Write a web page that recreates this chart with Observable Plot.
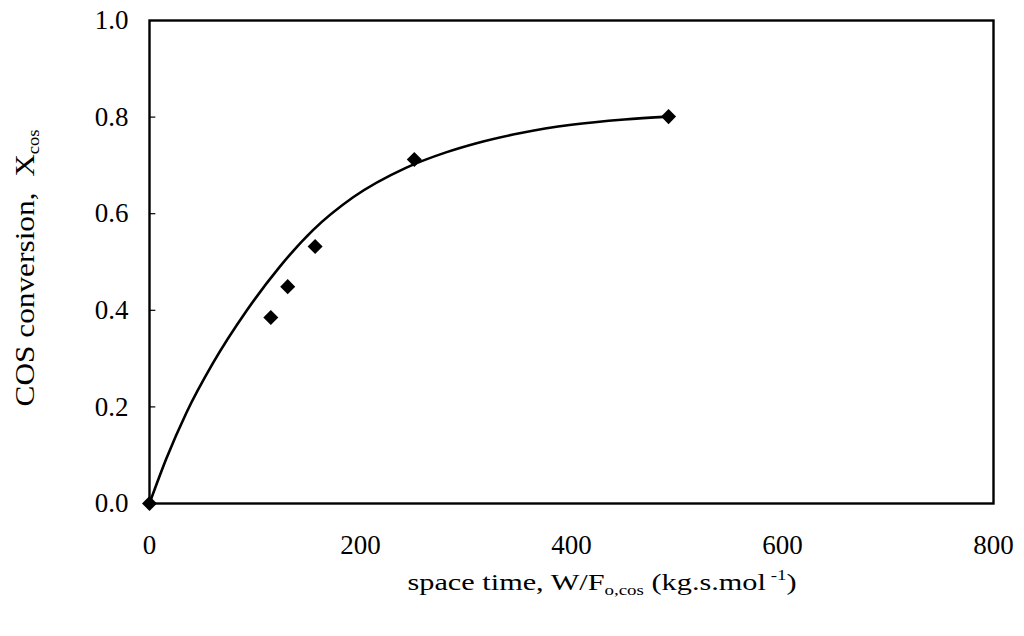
<!DOCTYPE html>
<html>
<head>
<meta charset="utf-8">
<script src="https://cdn.jsdelivr.net/npm/d3@7"></script>
<script src="https://cdn.jsdelivr.net/npm/@observablehq/plot@0.6"></script>
<style>
  html, body { margin: 0; padding: 0; background: #fff; }
  #chart { width: 1024px; height: 636px; }
</style>
</head>
<body>
<div id="chart"></div>
<script>
// Measured points (space time, conversion)
const expX = [0, 115, 131, 157, 251, 492];
const expY = [0, 0.385, 0.449, 0.532, 0.712, 0.801];

// Fitted curve
const fitX = [0, 16, 35, 60, 92, 123, 155, 193, 243, 281, 310, 352, 400, 450, 492];
const fitY = [0, 0.093, 0.188, 0.290, 0.399, 0.489, 0.566, 0.634, 0.695, 0.727, 0.746, 0.767, 0.784, 0.795, 0.801];

const xTicks = [0, 200, 400, 600, 800];
const yTicks = [0, 0.2, 0.4, 0.6, 0.8, 1.0];
const innerTicks = [0.2, 0.4, 0.6, 0.8];

const exp = expX.map((x, i) => ({x, y: expY[i]}));
const fit = fitX.map((x, i) => ({x, y: fitY[i]}));

const font = "'Liberation Serif', 'DejaVu Serif', serif";

const svg = Plot.plot({
  width: 1024,
  height: 636,
  marginLeft: 149,
  marginRight: 31,
  marginTop: 20,
  marginBottom: 133,
  style: {fontFamily: font, fontSize: "27px", color: "#000", background: "#fff"},
  x: {domain: [0, 800], ticks: xTicks},
  y: {domain: [0, 1], ticks: yTicks},
  marks: [
    Plot.frame({stroke: "#000", strokeWidth: 2.4}),
    Plot.ruleY(innerTicks, {x1: 0, x2: 6, stroke: "#000", strokeWidth: 1.2}),
    Plot.axisX({ticks: xTicks, tickSize: 0, tickPadding: 31, label: null, fontSize: 27}),
    Plot.axisY({ticks: yTicks, tickSize: 0, tickPadding: 21, tickFormat: d3.format(".1f"), label: null, fontSize: 27}),
    Plot.line(fit, {x: "x", y: "y", stroke: "#000", strokeWidth: 2.6, curve: "monotone-x"}),
    Plot.dot(exp, {x: "x", y: "y", symbol: "square", r: 6, rotate: 45, fill: "#000", stroke: "none"})
  ]
});

const s = d3.select(svg);
// X axis label
const xl = s.append("text")
  .attr("x", 602).attr("y", 590)
  .attr("text-anchor", "middle")
  .attr("textLength", 389).attr("lengthAdjust", "spacingAndGlyphs")
  .attr("font-family", font).attr("font-size", 24).attr("fill", "#000");
xl.append("tspan").text("space time, W/F");
xl.append("tspan").attr("dy", 5).attr("font-size", 15).text("o,cos");
xl.append("tspan").attr("dy", -5).text(" (kg.s.mol");
xl.append("tspan").attr("dy", -10).attr("font-size", 15).text(" -1");
xl.append("tspan").attr("dy", 10).text(")");

// Y axis label
const yl = s.append("text")
  .attr("transform", "translate(34,268) rotate(-90)")
  .attr("text-anchor", "middle")
  .attr("textLength", 277).attr("lengthAdjust", "spacingAndGlyphs")
  .attr("font-family", font).attr("font-size", 27).attr("fill", "#000");
yl.append("tspan").text("COS conversion,  X");
yl.append("tspan").attr("dy", 5).attr("font-size", 16).text("cos");

document.getElementById("chart").appendChild(svg);
</script>
</body>
</html>
